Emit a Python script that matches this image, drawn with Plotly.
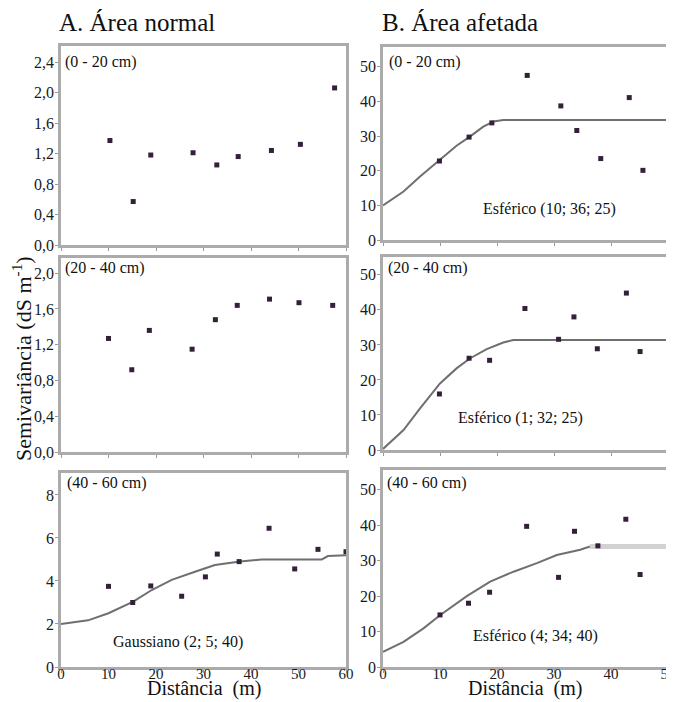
import plotly.graph_objects as go

# ---------------- data ----------------
# A. Área normal
tl_x = [10.3, 15.2, 18.9, 27.8, 32.8, 37.3, 44.3, 50.4, 57.6]
tl_y = [1.37, 0.57, 1.18, 1.21, 1.05, 1.16, 1.24, 1.32, 2.06]
ml_x = [10.0, 14.9, 18.6, 27.6, 32.5, 37.1, 43.9, 50.1, 57.2]
ml_y = [1.27, 0.92, 1.36, 1.15, 1.48, 1.64, 1.71, 1.67, 1.64]
bl_x = [10.0, 15.1, 18.9, 25.4, 30.4, 32.9, 37.5, 43.8, 49.2, 54.1, 60.0]
bl_y = [3.75, 3.0, 3.77, 3.29, 4.19, 5.25, 4.9, 6.45, 4.56, 5.47, 5.36]
bl_curve_x = [0, 5.7, 10, 15.2, 19.1, 23.3, 28.2, 32.4, 37.7, 42.2, 54.9, 56.2, 60]
bl_curve_y = [2.0, 2.17, 2.5, 3.04, 3.58, 4.05, 4.43, 4.74, 4.9, 5.0, 5.0, 5.16, 5.2]

# B. Área afetada
tr_x = [9.9, 15.1, 19.1, 25.3, 31.2, 34.0, 38.2, 43.2, 45.6]
tr_y = [22.8, 29.7, 33.8, 47.5, 38.7, 31.6, 23.5, 41.1, 20.1]
tr_curve_x = [0, 3.6, 6.5, 10, 12.9, 15.3, 17.6, 19.4, 21.1, 50]
tr_curve_y = [10, 14, 18.3, 23.2, 27.2, 29.9, 32.7, 34.2, 34.6, 34.6]
mr_x = [9.9, 15.1, 18.7, 24.9, 30.8, 33.5, 37.6, 42.7, 45.1]
mr_y = [16.0, 26.2, 25.6, 40.4, 31.6, 38.0, 28.9, 44.8, 28.1]
mr_curve_x = [0, 3.6, 6.5, 10, 12.9, 15.3, 18.2, 21.1, 22.9, 50]
mr_curve_y = [0.3, 5.7, 11.9, 19.0, 23.3, 26.2, 28.8, 30.7, 31.4, 31.4]
br_x = [10.0, 15.0, 18.7, 25.2, 30.8, 33.6, 37.7, 42.6, 45.1]
br_y = [14.7, 18.0, 21.1, 39.7, 25.3, 38.3, 34.2, 41.7, 26.1]
br_curve_x = [0, 3.6, 7.1, 10, 14.7, 18.8, 22.9, 27, 30.5, 34.6, 36.3]
br_curve_y = [4.25, 7.1, 10.9, 14.6, 20.0, 24.1, 26.9, 29.3, 31.6, 33.1, 34.0]
br_plateau_x = [36.3, 50]
br_plateau_y = [34.0, 34.0]

depth_labels = ["(0 - 20 cm)", "(20 - 40 cm)", "(40 - 60 cm)"]
left_ticks = [[0, 0.4, 0.8, 1.2, 1.6, 2.0, 2.4], [0, 0.4, 0.8, 1.2, 1.6, 2.0], [0, 2, 4, 6, 8]]
right_ticks = [0, 10, 20, 30, 40, 50]

OFF = 8  # page body margin
W, H = 674 - OFF, 702 - OFF
FONT = "Liberation Serif, Times New Roman, Times, DejaVu Serif, serif"
MARK = dict(symbol="square", size=5, color="#34203a")
CURVE = dict(color="#6f6f6f", width=2)


def px_x(p):
    return (p - OFF) / W


def px_y(p):
    return 1 - (p - OFF) / H


fig = go.Figure()

left_x = (61, 346)
right_x = (383, 668)
boxes = {
    1: (left_x, (46, 245), [0, 2.61]),
    2: (right_x, (47, 240), [0, 55.7]),
    3: (left_x, (258, 452), [0, 2.17]),
    4: (right_x, (257, 450), [0, 55.1]),
    5: (left_x, (473, 667), [0, 9.02]),
    6: (right_x, (470, 667), [0, 55.6]),
}


def add_pts(n, xs, ys):
    fig.add_trace(go.Scatter(x=xs, y=ys, mode="markers", marker=MARK,
                             xaxis=f"x{n}", yaxis=f"y{n}", showlegend=False))


def add_line(n, xs, ys, line=CURVE):
    fig.add_trace(go.Scatter(x=xs, y=ys, mode="lines", line=line,
                             xaxis=f"x{n}", yaxis=f"y{n}", showlegend=False))


add_pts(1, tl_x, tl_y)
add_line(2, tr_curve_x, tr_curve_y)
add_pts(2, tr_x, tr_y)
add_pts(3, ml_x, ml_y)
add_line(4, mr_curve_x, mr_curve_y)
add_pts(4, mr_x, mr_y)
add_line(5, bl_curve_x, bl_curve_y)
add_pts(5, bl_x, bl_y)
add_line(6, br_plateau_x, br_plateau_y, dict(color="#d2d2d2", width=5))
add_line(6, br_curve_x, br_curve_y)
add_pts(6, br_x, br_y)

layout = dict(
    width=W, height=H,
    margin=dict(l=0, r=0, t=0, b=0),
    paper_bgcolor="white", plot_bgcolor="white",
    separators=", ",
    font=dict(family=FONT, size=16, color="#1a1a1a"),
    showlegend=False,
)

axis_common = dict(showline=True, mirror=True, linecolor="#ababab", linewidth=2.5,
                   showgrid=False, zeroline=False, ticks="outside", ticklen=3,
                   tickcolor="#9a9a9a", tickwidth=1, automargin=False,
                   ticklabeloverflow="allow",
                   tickfont=dict(family=FONT, size=16, color="#1a1a1a"))

for n, ((x0, x1), (y0, y1), yr) in boxes.items():
    left = n % 2 == 1
    bottom = n >= 5
    xa = dict(axis_common, domain=[px_x(x0), px_x(x1)], anchor=f"y{n}",
              range=[0, 60] if left else [0, 50],
              tickvals=list(range(0, 61, 10)) if left else right_ticks,
              showticklabels=bottom, ticklabelstandoff=-12, fixedrange=True,
              tickfont=dict(family=FONT, size=15, color="#1a1a1a"))
    if left:
        row = (n - 1) // 2
        tv = left_ticks[row]
        fmt = ".1f" if row < 2 else "d"
    else:
        tv = right_ticks
        fmt = "d"
    ya = dict(axis_common, domain=[px_y(y1), px_y(y0)], anchor=f"x{n}",
              range=yr, tickvals=tv, tickformat=fmt, ticklabelstandoff=-2,
              fixedrange=True)
    key = "" if n == 1 else str(n)
    layout["xaxis" + key] = xa
    layout["yaxis" + key] = ya

fig.update_layout(**layout)

ann = []


def text(x, y, s, size, xanchor="left", yanchor="middle", angle=0):
    ann.append(dict(x=px_x(x), y=px_y(y), xref="paper", yref="paper", text=s,
                    showarrow=False, xanchor=xanchor, yanchor=yanchor, textangle=angle,
                    font=dict(family=FONT, size=size, color="#111111")))


text(57, 22, "A. Área normal", 25)
text(380, 22, "B. Área afetada", 25)
for (lx, ly), lab in zip([(63, 62), (63, 268), (65, 483)], depth_labels):
    text(lx, ly, lab, 16)
for (lx, ly), lab in zip([(387, 62), (386, 268), (385, 483)], depth_labels):
    text(lx, ly, lab, 16)
text(549, 209, "Esférico (10; 36; 25)", 16, xanchor="center")
text(520, 418, "Esférico (1; 32; 25)", 16, xanchor="center")
text(535, 636, "Esférico (4; 34; 40)", 16, xanchor="center")
text(178, 642, "Gaussiano (2; 5; 40)", 16, xanchor="center")
text(22, 359, "Semivariância (dS m<sup>-1</sup>)", 22, xanchor="center", angle=-90)
text(204, 702, "Distância  (m)", 20, xanchor="center", yanchor="bottom")
text(525, 702, "Distância  (m)", 20, xanchor="center", yanchor="bottom")

fig.update_layout(annotations=ann)
fig.write_html("out.html")
